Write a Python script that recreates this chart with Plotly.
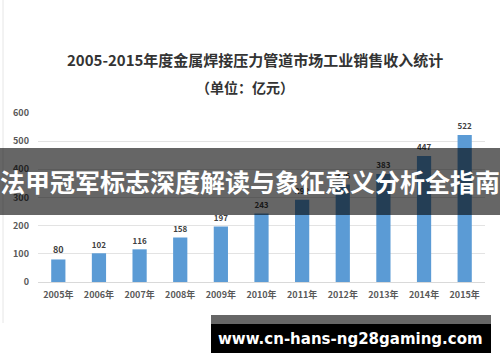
import plotly.graph_objects as go

years = ["2005年", "2006年", "2007年", "2008年", "2009年", "2010年",
         "2011年", "2012年", "2013年", "2014年", "2015年"]
revenue = [80, 102, 116, 158, 197, 243, 292, 346, 383, 447, 522]
y_ticks = [0, 100, 200, 300, 400, 500, 600]

title_text = "2005-2015年度金属焊接压力管道市场工业销售收入统计"
unit_text = "（单位：亿元）"
banner_text = "法甲冠军标志深度解读与象征意义分析全指南"
url_text = "www.cn-hans-ng28gaming.com"

W, H = 500, 362
L, R, T, B = 38, 15, 113, 80
PW, PH = W - L - R, H - T - B
font_cjk = "Noto Sans CJK SC, Noto Sans, sans-serif"


def px(x):
    return (x - L) / PW


def py(y):
    return (H - B - y) / PH


fig = go.Figure()
fig.add_trace(go.Bar(
    x=years, y=revenue,
    marker=dict(color="#5b9bd5", line=dict(width=0)),
    text=[str(v) for v in revenue],
    textposition="outside",
    textfont=dict(family=font_cjk, size=9, color="#404040", weight="bold"),
    cliponaxis=False,
))

fig.update_layout(
    width=W, height=H,
    margin=dict(l=L, r=R, t=T, b=B),
    paper_bgcolor="white", plot_bgcolor="white",
    bargap=0.65,
    showlegend=False,
    font=dict(family=font_cjk),
    xaxis=dict(
        showgrid=False, showline=True, linecolor="#d9d9d9", linewidth=1,
        ticks="", tickfont=dict(family=font_cjk, size=9, color="#595959", weight="bold"),
        ticklabelstandoff=4,
    ),
    yaxis=dict(
        range=[0, 600], tickvals=y_ticks, showgrid=True, gridcolor="#e3e3e3",
        gridwidth=1, zeroline=False, showline=False, ticks="",
        tickfont=dict(family=font_cjk, size=9, color="#595959", weight="bold"),
        ticklabelstandoff=8,
    ),
)

annotations = [
    dict(text=title_text, x=px(255), y=py(60),
         font=dict(family=font_cjk, size=15, color="#333333", weight="bold")),
    dict(text=unit_text, x=px(245), y=py(87),
         font=dict(family=font_cjk, size=14, color="#333333", weight="bold")),
    dict(text=banner_text, x=px(250), y=py(181),
         font=dict(family=font_cjk, size=25, color="white", weight="bold")),
    dict(text=url_text, x=px(350), y=py(339),
         font=dict(family="DejaVu Sans, sans-serif", size=15, color="white", weight="bold")),
]
for a in annotations:
    a.update(xref="paper", yref="paper", showarrow=False,
             xanchor="center", yanchor="middle")
fig.update_layout(annotations=annotations)

shapes = [
    dict(type="line", x0=px(3), x1=px(3), y0=py(0), y1=py(323),
         line=dict(color="#e6e6e6", width=1)),
    dict(type="rect", x0=px(0), x1=px(500), y0=py(148), y1=py(215),
         fillcolor="rgba(0,0,0,0.6)", line=dict(width=0)),
    dict(type="rect", x0=px(211), x1=px(491), y0=py(315), y1=py(324),
         fillcolor="#666666", line=dict(width=0)),
    dict(type="rect", x0=px(211), x1=px(491), y0=py(324), y1=py(353),
         fillcolor="black", line=dict(width=0)),
]
for s in shapes:
    s.update(xref="paper", yref="paper", layer="above")
fig.update_layout(shapes=shapes)

fig.write_html("out.html")
